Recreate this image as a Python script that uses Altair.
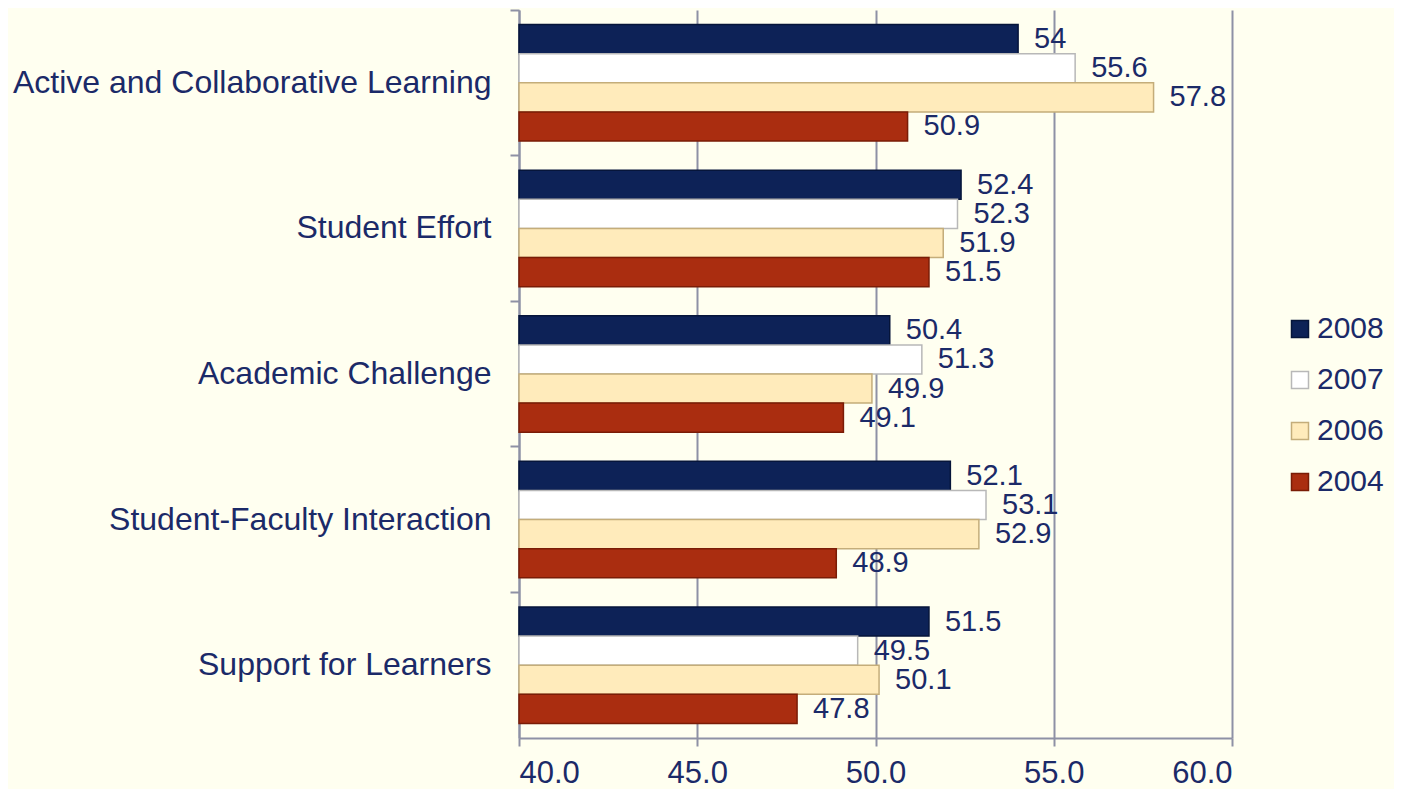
import altair as alt
import pandas as pd

categories = [
    "Active and Collaborative Learning",
    "Student Effort",
    "Academic Challenge",
    "Student-Faculty Interaction",
    "Support for Learners",
]
years = ["2008", "2007", "2006", "2004"]
v2008 = [54, 52.4, 50.4, 52.1, 51.5]
v2007 = [55.6, 52.3, 51.3, 53.1, 49.5]
v2006 = [57.8, 51.9, 49.9, 52.9, 50.1]
v2004 = [50.9, 51.5, 49.1, 48.9, 47.8]
x_ticks = [40, 45, 50, 55, 60]

fills = ["#0D2257", "#FFFFFF", "#FFEBBB", "#AA2D10"]
strokes = ["#06153A", "#B8B8B8", "#C4AD7A", "#7A1C06"]
TEXT = "#1B2A68"
GRID = "#8E91A5"
BG = "#FFFFF0"
FONT = "Liberation Sans"

series = {"2008": v2008, "2007": v2007, "2006": v2006, "2004": v2004}
rows = []
for y in years:
    for c, v in zip(categories, series[y]):
        rows.append({"category": c, "year": y, "value": v, "label": str(v)})
df = pd.DataFrame(rows)

legend = alt.Legend(
    title=None,
    orient="none",
    legendX=766,
    legendY=304,
    padding=0,
    symbolType="square",
    symbolSize=289,
    symbolStrokeWidth=1.5,
    labelFontSize=30,
    labelColor=TEXT,
    labelFont=FONT,
    labelOffset=2,
    rowPadding=21,
)

y_enc = alt.Y(
    "category:N",
    sort=categories,
    scale=alt.Scale(paddingInner=0, paddingOuter=0),
    axis=alt.Axis(
        title=None,
        bandPosition=0,
        tickSize=9,
        tickColor=GRID,
        tickWidth=2,
        domainColor=GRID,
        domainWidth=2,
        labelFontSize=32,
        labelFont=FONT,
        labelColor=TEXT,
        labelPadding=19,
        labelLimit=600,
        grid=False,
    ),
)
yoff = alt.YOffset("year:N", sort=years, scale=alt.Scale(paddingOuter=0.5, paddingInner=0))

x_enc = alt.X(
    "value:Q",
    scale=alt.Scale(domain=[40, 60], nice=False, zero=False),
    axis=alt.Axis(
        title=None,
        values=x_ticks,
        format=".1f",
        tickSize=8,
        tickColor=GRID,
        tickWidth=2,
        domainColor=GRID,
        domainWidth=2,
        grid=True,
        gridColor=GRID,
        gridWidth=2,
        labelFontSize=31,
        labelFont=FONT,
        labelColor=TEXT,
        labelPadding=12,
    ),
)

bars = alt.Chart(df).mark_bar(strokeWidth=1.5).encode(
    y=y_enc,
    yOffset=yoff,
    x=x_enc,
    x2=alt.datum(40),
    fill=alt.Fill("year:N", sort=years, scale=alt.Scale(domain=years, range=fills), legend=legend),
    stroke=alt.Stroke("year:N", sort=years, scale=alt.Scale(domain=years, range=strokes), legend=legend),
)

labels = alt.Chart(df).mark_text(
    align="left", baseline="middle", dx=16, fontSize=29, font=FONT, color=TEXT
).encode(
    y=alt.Y("category:N", sort=categories),
    yOffset=alt.YOffset("year:N", sort=years),
    x=alt.X("value:Q"),
    text=alt.Text("label:N"),
)

chart = (
    alt.layer(bars, labels)
    .properties(
        width=713,
        height=728,
        background=BG,
        padding={"left": 511, "top": 2, "right": 162, "bottom": 51},
        autosize=alt.AutoSizeParams(type="none"),
    )
    .configure_view(stroke="transparent")
)

chart.save("out.html", embed_options={"renderer": "svg", "actions": False})
